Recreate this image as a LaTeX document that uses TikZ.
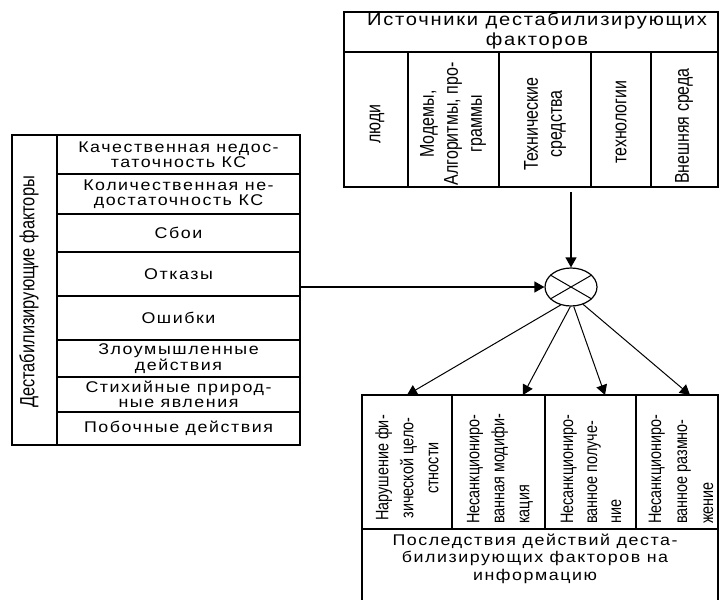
\documentclass[tikz,border=0pt]{standalone}
\usepackage{fontspec}
\setmainfont{Liberation Sans}
% wide, spaced face for the horizontal labels, narrow face for the turned ones
\newfontfamily\widefont[FakeStretch=1.15,LetterSpace=10]{Liberation Sans}
\newfontfamily\narrowfont[FakeStretch=0.8]{Liberation Sans}
\usetikzlibrary{arrows.meta}
\usetikzlibrary{shapes.geometric}
\usetikzlibrary{calc}

\tikzset{
	frame/.style={draw=black, line width=1.8pt, inner sep=0pt, outer sep=0pt},
	divider/.style={draw=black, line width=1.4pt},
	arr/.style={-{Triangle[length=10pt,width=11pt]}, line width=1.2pt},
	htext/.style={font=\widefont\fontsize{15.5}{15.5}\selectfont, align=center, inner sep=0pt},
	vtext/.style={font=\narrowfont\fontsize{20}{24}\selectfont, align=center, rotate=90, inner sep=0pt},
}

\begin{document}
\begin{tikzpicture}[x=1pt, y=-1pt, line join=miter]

	\useasboundingbox (0,0) rectangle (719,599);
	\clip (0,0) rectangle (719,599);

	% left block: destabilising factors
	\node[frame, anchor=north west, minimum width=288pt, minimum height=310pt] (fact) at (12,135) {};
	\draw[divider] (57,135) -- (57,445);
	\foreach \y in {174,214,252,296,340,377,412}
		\draw[divider] (57,\y) -- (300,\y);
	\node[vtext, font=\narrowfont\fontsize{20.5}{24}\selectfont] (factlbl) at (29,292) {Дестабилизирующие факторы};
	\node[htext] (f1) at (178.5,154.5) {Качественная недос-\\таточность КС};
	\node[htext] (f2) at (178.5,194) {Количественная не-\\достаточность КС};
	\node[htext] (f3) at (178.5,233) {Сбои};
	\node[htext] (f4) at (178.5,274) {Отказы};
	\node[htext] (f5) at (178.5,318) {Ошибки};
	\node[htext] (f6) at (178.5,358.5) {Злоумышленные\\действия};
	\node[htext] (f7) at (178.5,394.5) {Стихийные природ-\\ные явления};
	\node[htext] (f8) at (178.5,428.5) {Побочные действия};

	% top block: sources
	\node[frame, anchor=north west, minimum width=374pt, minimum height=175pt] (src) at (344,12) {};
	\draw[divider] (344,52) -- (718,52);
	\foreach \x in {408,499,591,651}
		\draw[divider] (\x,52) -- (\x,187);
	\node[htext, font=\widefont\fontsize{17.5}{20}\selectfont] (srclbl) at (537,31) {Источники дестабилизирующих\\факторов};
	\node[vtext] (s1) at (377,124) {люди};
	\node[vtext] (s2) at (453,124) {Модемы,\\Алгоритмы, про-\\граммы};
	\node[vtext] (s3) at (545,124) {Технические\\средства};
	\node[vtext] (s4) at (621,122) {технологии};
	\node[vtext] (s5) at (684,126) {Внешняя среда};

	% bottom block: consequences
	\node[frame, anchor=north west, minimum width=356pt, minimum height=260pt] (eff) at (362,395) {};
	\draw[divider] (362,529) -- (718,529);
	\foreach \x in {452,545,636}
		\draw[divider] (\x,395) -- (\x,529);
	\node[htext, font=\widefont\fontsize{15.5}{17.5}\selectfont] (efflbl) at (535,558.5) {Последствия действий деста-\\билизирующих факторов на\\информацию};
	\node[vtext, font=\narrowfont\fontsize{18}{25}\selectfont] (e1lbl) at (407,468) {Нарушение фи-\\зической цело-\\стности};
	\node[vtext, font=\narrowfont\fontsize{18}{25}\selectfont, align=left, anchor=west] (e2lbl) at (500,524) {Несанкциониро-\\ванная модифи-\\кация};
	\node[vtext, font=\narrowfont\fontsize{18}{24}\selectfont, align=left, anchor=west] (e3lbl) at (591,524) {Несанкциониро-\\ванное получе-\\ние};
	\node[vtext, font=\narrowfont\fontsize{18}{26}\selectfont, align=left, anchor=west] (e4lbl) at (681,524) {Несанкциониро-\\ванное размно-\\жение};

	% mixing point
	\node[ellipse, draw, line width=1.2pt, minimum width=52pt, minimum height=38pt, inner sep=0pt] (mix) at (571,287) {};
	\draw[line width=1pt] (mix.150) -- (mix.330);
	\draw[line width=1pt] (mix.210) -- (mix.30);

	% arrow ends on the consequences block
	\coordinate (e1) at (407,395);
	\coordinate (e2) at (523,395);
	\coordinate (e3) at (605,395);
	\coordinate (e4) at (690,395);

	% connectors
	\draw[arr] (fact.east |- mix.west) -- (mix.west);
	\draw[arr] ($(mix.north |- src.south)+(0,5)$) -- (mix.north);
	\draw[arr, line width=1pt] (mix.240) -- (e1);
	\draw[arr, line width=1pt] (mix.268) -- (e2);
	\draw[arr, line width=1pt] (mix.278) -- (e3);
	\draw[arr, line width=1pt] (mix.305) -- (e4);

\end{tikzpicture}
\end{document}
